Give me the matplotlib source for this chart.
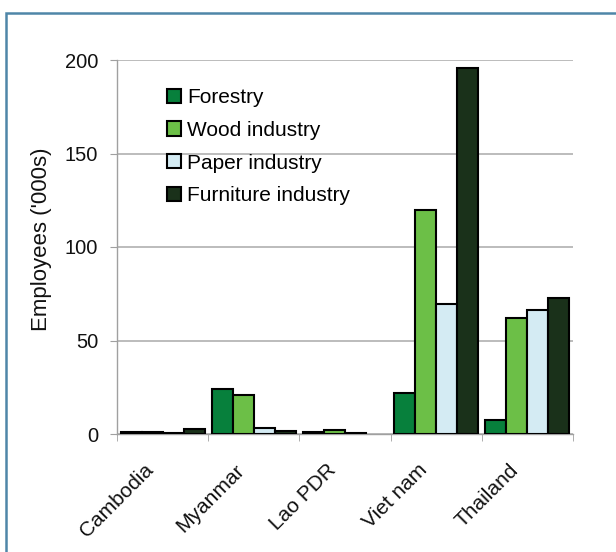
import numpy as np
import matplotlib.pyplot as plt
import matplotlib.transforms as mtransforms
from matplotlib.patches import Rectangle

plt.rcParams['font.family'] = ['Liberation Sans', 'DejaVu Sans']

# Data (thousands of employees)
countries = ['Cambodia', 'Myanmar', 'Lao PDR', 'Viet nam', 'Thailand']
series = ['Forestry', 'Wood industry', 'Paper industry', 'Furniture industry']
forestry = [1.0, 24, 1.0, 22, 7.5]
wood = [1.0, 21, 2.0, 120, 62]
paper = [0.3, 3, 0.5, 69.5, 66.5]
furniture = [2.5, 1.8, np.nan, 195.5, 72.5]
colors = ['#07803c', '#6cbf47', '#d4ebf3', '#1a311a']

values = [forestry, wood, paper, furniture]
fs = 14.5

fig = plt.figure(figsize=(6.16, 5.52), dpi=100)
fig.patch.set_facecolor('white')

# outer frame (partly cut off at right and bottom)
fig.patches.append(Rectangle((6 / 616, -0.05), 1.2, (552 - 13) / 552 + 0.05,
                             transform=fig.transFigure, fill=False,
                             edgecolor='#4f86a8', linewidth=1.8))

ax = fig.add_axes([117 / 616, (552 - 434) / 552, 456 / 616, 374 / 552])

x = np.arange(len(countries))
w = 0.23
for i, (vals, name, c) in enumerate(zip(values, series, colors)):
    ax.bar(x + (i - 1.5) * w, vals, width=w, color=c, edgecolor='black',
           linewidth=1.5, label=name, zorder=3)

ax.set_xlim(-0.5, len(countries) - 0.5)
ax.set_ylim(0, 200)
ax.set_yticks([0, 50, 100, 150, 200])
ax.yaxis.grid(True, color='#b0b0b0', linewidth=1.2, zorder=0)
ax.set_axisbelow(True)

for s in ['top', 'right']:
    ax.spines[s].set_visible(False)
for s in ['left', 'bottom']:
    ax.spines[s].set_color('#a0a0a0')
    ax.spines[s].set_linewidth(1.0)

ax.tick_params(axis='y', colors='#a0a0a0', labelcolor='#111111', labelsize=fs,
               length=5, pad=8.5)

# tick marks at group boundaries, labels at group centres
ax.set_xticks(np.arange(len(countries) + 1) - 0.5, minor=True)
ax.tick_params(axis='x', which='minor', colors='#a0a0a0', length=5)
ax.set_xticks(x)
ax.set_xticklabels(countries, rotation=45, ha='right', va='center',
                   rotation_mode='anchor', fontsize=15, color='#111111')
ax.tick_params(axis='x', which='major', length=0, pad=24)
offset = mtransforms.ScaledTranslation(-12 / 100, 0, fig.dpi_scale_trans)
for lab in ax.get_xticklabels():
    lab.set_transform(lab.get_transform() + offset)

ax.set_ylabel("Employees ('000s)", fontsize=16, color='#111111')
ax.yaxis.set_label_coords(-0.143, 0.52)

ax.legend(loc='upper left', bbox_to_anchor=(0.11, 0.925), frameon=False,
          fontsize=15, handlelength=0.66, handleheight=0.66, handletextpad=0.3,
          labelspacing=0.66, borderpad=0, borderaxespad=0)

fig.savefig('out.png', dpi=100)
